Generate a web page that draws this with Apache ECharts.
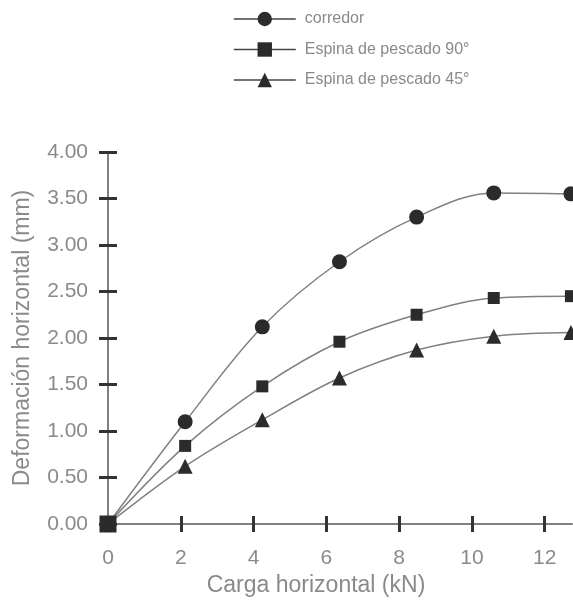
<!DOCTYPE html>
<html>
<head>
<meta charset="utf-8">
<script src="https://cdn.jsdelivr.net/npm/echarts@6/dist/echarts.min.js"></script>
<style>
html,body{margin:0;padding:0;background:#fff;}
#c{width:573px;height:602px;}
</style>
</head>
<body>
<div id="c"></div>
<script>
// Data
var cargas = [0, 2.12, 4.24, 6.36, 8.48, 10.6, 12.72];
var corredor = [0, 1.10, 2.12, 2.82, 3.30, 3.56, 3.55];
var espina90 = [0, 0.84, 1.48, 1.96, 2.25, 2.43, 2.45];
var espina45 = [0, 0.62, 1.12, 1.57, 1.87, 2.02, 2.06];
var seriesNames = ['corredor', 'Espina de pescado 90°', 'Espina de pescado 45°'];
var xTicks = [0, 2, 4, 6, 8, 10, 12];
var yTicks = [0, 0.5, 1, 1.5, 2, 2.5, 3, 3.5, 4];

function pairs(ys) { return cargas.map(function (x, i) { return [x, ys[i]]; }); }

var FONT = '"Liberation Sans", Arial, sans-serif';
var TEXT = '#8a8a8a';
var LINE = '#808080';
var MARK = '#2b2b2b';

var chart = echarts.init(document.getElementById('c'), null, {renderer: 'canvas'});

var tickStyle = {color: '#333', width: 3};

chart.setOption({
  animation: false,
  backgroundColor: '#fff',
  legend: {
    orient: 'vertical',
    left: 228,
    top: 6,
    itemWidth: 62,
    itemHeight: 18,
    itemGap: 14.5,
    data: seriesNames,
    lineStyle: {color: '#444', width: 1.5},
    textStyle: {color: TEXT, fontSize: 16, fontFamily: FONT, padding: [0, 0, 0, 4]}
  },
  grid: {left: 108, right: 1, top: 152, bottom: 75, containLabel: false},
  xAxis: [{
    type: 'value', min: 0, max: 12.75,
    name: 'Carga horizontal (kN)', nameLocation: 'middle', nameGap: 50,
    nameTextStyle: {color: TEXT, fontSize: 23, fontFamily: FONT, padding: [0, 48, 0, 0]},
    axisLine: {show: true, lineStyle: {color: LINE, width: 2}},
    axisTick: {show: true, length: 8, lineStyle: tickStyle, customValues: xTicks},
    axisLabel: {color: TEXT, fontSize: 21, fontFamily: FONT, margin: 24, customValues: xTicks},
    splitLine: {show: false}
  }, {
    type: 'value', min: 0, max: 12.75, position: 'bottom',
    axisLine: {show: false},
    axisTick: {show: true, inside: true, length: 8, lineStyle: tickStyle, customValues: xTicks},
    axisLabel: {show: false},
    splitLine: {show: false}
  }],
  yAxis: [{
    type: 'value', min: 0, max: 4, interval: 0.5,
    name: 'Deformación horizontal (mm)', nameLocation: 'middle', nameGap: 74,
    nameTextStyle: {color: TEXT, fontSize: 23, fontFamily: FONT},
    axisLine: {show: true, lineStyle: {color: LINE, width: 2}},
    axisTick: {show: true, length: 9, lineStyle: tickStyle, customValues: yTicks},
    axisLabel: {color: TEXT, fontSize: 21, fontFamily: FONT, margin: 20,
      customValues: yTicks,
      formatter: function (v) { return v.toFixed(2); }},
    splitLine: {show: false}
  }, {
    type: 'value', min: 0, max: 4, interval: 0.5, position: 'left',
    axisLine: {show: false},
    axisTick: {show: true, inside: true, length: 9, lineStyle: tickStyle, customValues: yTicks},
    axisLabel: {show: false},
    splitLine: {show: false}
  }],
  series: [{
    name: seriesNames[2], type: 'line', data: pairs(espina45),
    smooth: 0.35, symbol: 'triangle', symbolSize: 15, showAllSymbol: true,
    lineStyle: {color: LINE, width: 1.5},
    itemStyle: {color: MARK, borderWidth: 0},
    z: 2
  }, {
    name: seriesNames[0], type: 'line', data: pairs(corredor),
    smooth: 0.35, symbol: 'circle', symbolSize: 15, showAllSymbol: true,
    lineStyle: {color: LINE, width: 1.5},
    itemStyle: {color: MARK, borderWidth: 0},
    z: 3
  }, {
    name: seriesNames[1], type: 'line', data: pairs(espina90),
    smooth: 0.35, symbol: 'rect',
    symbolSize: function (v) { return v[0] === 0 ? 17 : 12; },
    showAllSymbol: true,
    lineStyle: {color: LINE, width: 1.5},
    itemStyle: {color: MARK, borderWidth: 0},
    z: 4
  }]
});
</script>
</body>
</html>
